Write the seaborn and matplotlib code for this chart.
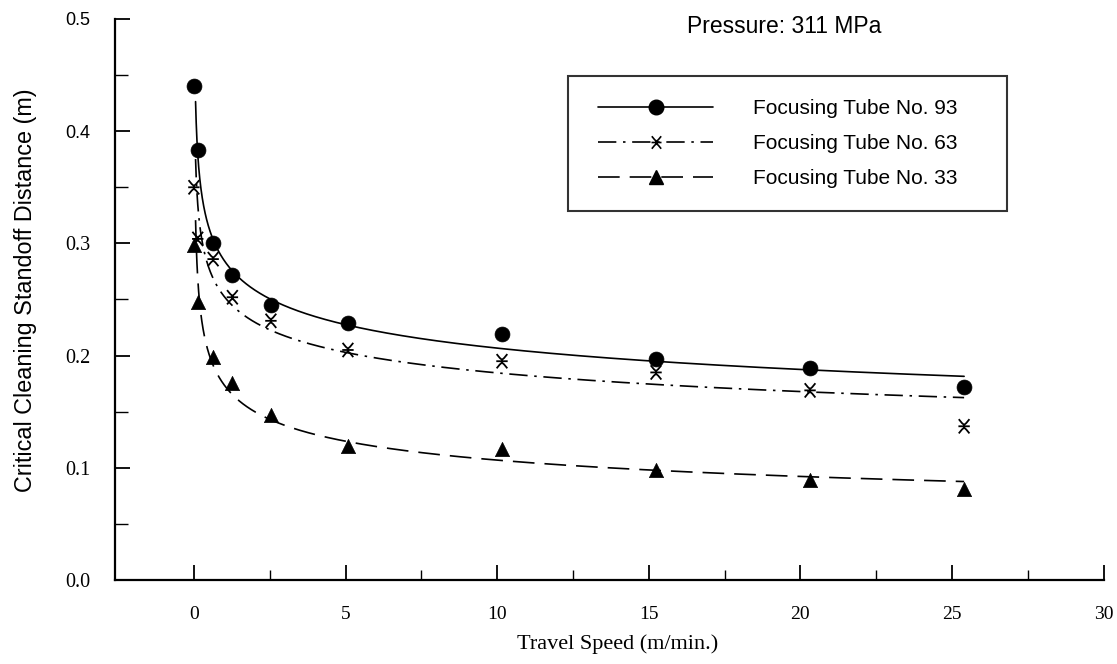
import numpy as np
import pandas as pd
import matplotlib
matplotlib.use("Agg")
import matplotlib.pyplot as plt
from matplotlib.path import Path
from matplotlib.lines import Line2D
from matplotlib.legend_handler import HandlerLine2D
from matplotlib.ticker import FixedLocator
import seaborn as sns

# ---------------- data ----------------
speed = [0.0, 0.127, 0.635, 1.27, 2.54, 5.08, 10.16, 15.24, 20.32, 25.4]
tube93 = [0.440, 0.383, 0.300, 0.272, 0.245, 0.229, 0.219, 0.197, 0.189, 0.172]
tube63 = [0.350, 0.304, 0.286, 0.252, 0.231, 0.205, 0.195, 0.185, 0.169, 0.137]
tube33 = [0.299, 0.248, 0.199, 0.176, 0.147, 0.119, 0.117, 0.098, 0.089, 0.081]
labels = ["Focusing Tube No. 93", "Focusing Tube No. 63", "Focusing Tube No. 33"]
x_ticks = [0, 5, 10, 15, 20, 25, 30]
y_ticks = [0.0, 0.1, 0.2, 0.3, 0.4, 0.5]
title_text = "Pressure: 311 MPa"
x_label = "Travel Speed (m/min.)"
y_label = "Critical Cleaning Standoff Distance (m)"

sns.set_theme(style="white")
plt.rcParams["font.family"] = ["Liberation Sans", "DejaVu Sans"]

# custom "ж"-like marker for tube 63
verts = [(-0.75, 1.0), (-0.3, 0.45), (0.0, 0.2), (0.3, 0.45), (0.75, 1.0),
         (-0.75, -1.0), (-0.3, -0.45), (0.0, -0.2), (0.3, -0.45), (0.75, -1.0),
         (-0.8, 0.0), (0.8, 0.0),
         (0.0, 0.2), (0.0, -0.2)]
codes = [Path.MOVETO, Path.LINETO, Path.LINETO, Path.LINETO, Path.LINETO,
         Path.MOVETO, Path.LINETO, Path.LINETO, Path.LINETO, Path.LINETO,
         Path.MOVETO, Path.LINETO,
         Path.MOVETO, Path.LINETO]
zhe = Path(verts, codes)

styles = {
    labels[0]: dict(marker="o", ls="-", s=115, filled=True),
    labels[1]: dict(marker=zhe, ls=(0, (11, 4, 1.5, 4)), s=105, filled=False),
    labels[2]: dict(marker="^", ls=(0, (13, 6)), s=105, filled=True),
}

fig = plt.figure(figsize=(11.17, 6.64), dpi=100)
ax = fig.add_axes([0.103, 0.1265, 0.885, 0.8449])

x_arr = np.array(speed)
xs = np.geomspace(0.055, 25.4, 400)
handles = []
for lab, ys in zip(labels, [tube93, tube63, tube33]):
    y_arr = np.array(ys)
    m = x_arr > 0
    b, lna = np.polyfit(np.log(x_arr[m]), np.log(y_arr[m]), 1)
    fit = np.exp(lna) * xs ** b
    st = styles[lab]
    sns.lineplot(x=xs, y=fit, ax=ax, color="black", linewidth=1.2,
                 linestyle=st["ls"], legend=False)
    if st["filled"]:
        sns.scatterplot(x=x_arr, y=y_arr, ax=ax, marker=st["marker"], s=st["s"],
                        color="black", edgecolor="black", linewidth=0.5, legend=False, zorder=3)
        h = Line2D([0], [0], color="black", lw=1.2, ls=st["ls"], marker=st["marker"],
                   ms=10.5, mfc="black", mec="black")
    else:
        sns.scatterplot(x=x_arr, y=y_arr, ax=ax, marker=st["marker"], s=st["s"],
                        facecolor="none", edgecolor="black", linewidth=1.3, legend=False, zorder=3)
        h = Line2D([0], [0], color="black", lw=1.2, ls=st["ls"], marker=st["marker"],
                   ms=9, mfc="none", mec="black", mew=1.2)
    handles.append(h)

ax.set_xlim(-2.6, 30)
ax.set_ylim(0, 0.5)
ax.xaxis.set_major_locator(FixedLocator(x_ticks))
ax.xaxis.set_minor_locator(FixedLocator([2.5, 7.5, 12.5, 17.5, 22.5, 27.5]))
ax.yaxis.set_major_locator(FixedLocator(y_ticks))
ax.yaxis.set_minor_locator(FixedLocator([0.05, 0.15, 0.25, 0.35, 0.45]))

for side in ["top", "right"]:
    ax.spines[side].set_visible(False)
for side in ["left", "bottom"]:
    ax.spines[side].set_color("black")
    ax.spines[side].set_linewidth(1.6)

ax.tick_params(axis="x", which="major", direction="in", length=11, width=1.3,
               color="black", pad=19, bottom=True)
ax.tick_params(axis="x", which="minor", direction="in", length=7, width=1.0,
               color="black", bottom=True)
ax.tick_params(axis="y", which="major", direction="in", length=11, width=1.3,
               color="black", pad=18, left=True)
ax.tick_params(axis="y", which="minor", direction="in", length=9, width=1.0,
               color="black", left=True)

ax.set_xticklabels([str(t) for t in x_ticks], family="Liberation Serif", fontsize=14,
                   color="black")
ylabs = ax.set_yticklabels([f"{t:.1f}" for t in y_ticks], color="black")
for t, v in zip(ylabs, y_ticks):
    if v >= 0.35:
        t.set_family("Liberation Sans")
        t.set_fontsize(13)
    else:
        t.set_family("Liberation Serif")
        t.set_fontsize(14.5)

ax.set_xlabel(x_label, family="Liberation Serif", fontsize=16, color="black",
              labelpad=8, x=0.508)
ax.set_ylabel(y_label, family="Liberation Sans", fontsize=16.8, color="black",
              labelpad=20, y=0.517)

ax.text(0.579, 0.986, title_text, transform=ax.transAxes, fontsize=16.5,
        family="Liberation Sans", color="black", va="center", ha="left")

leg = ax.legend(handles, labels, loc="upper left",
                bbox_to_anchor=(0.458, 0.898, 0.444, 0.0), mode="expand",
                frameon=True, fancybox=False, shadow=False, fontsize=15,
                handlelength=5.88, handletextpad=1.9, labelspacing=0.76,
                borderpad=1.1, borderaxespad=0.0, numpoints=1,
                handler_map={Line2D: HandlerLine2D(xpad=0.35)})
leg.get_frame().set_edgecolor("black")
leg.get_frame().set_linewidth(1.5)
for t in leg.get_texts():
    t.set_family("Liberation Sans")
    t.set_color("black")

fig.savefig("out.png", dpi=100, facecolor="white")
